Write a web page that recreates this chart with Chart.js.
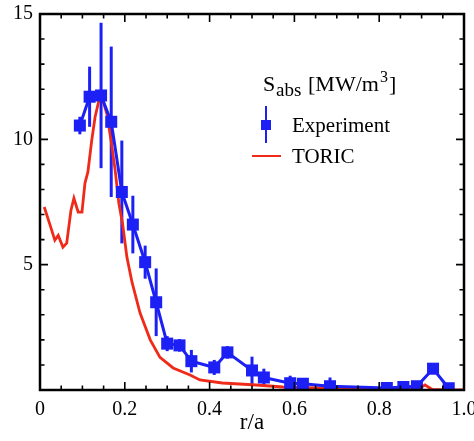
<!DOCTYPE html>
<html>
<head>
<meta charset="utf-8">
<script src="https://cdn.jsdelivr.net/npm/chart.js@4"></script>
<style>
  html, body { margin: 0; padding: 0; background: #fff; }
  #wrap { width: 474px; height: 441px; }
</style>
</head>
<body>
<div id="wrap"><canvas id="myChart"></canvas></div>
<script>
const BLUE = "rgb(28,32,245)";
const RED = "rgb(240,42,25)";
const SERIF = '"Liberation Serif", "Times New Roman", serif';

// measured points (r/a, S_abs, +/- error)
const expX = [0.094, 0.117, 0.144, 0.168, 0.193, 0.219, 0.248, 0.274, 0.300, 0.329, 0.357, 0.411, 0.442, 0.500, 0.528, 0.590, 0.620, 0.684, 0.818, 0.857, 0.889, 0.927, 0.964];
const expY = [10.55, 11.7, 11.75, 10.7, 7.9, 6.6, 5.1, 3.5, 1.85, 1.78, 1.15, 0.9, 1.5, 0.78, 0.5, 0.27, 0.25, 0.15, 0.08, 0.12, 0.15, 0.85, 0.07];
const expErr = [0.35, 1.2, 2.9, 3.0, 2.05, 1.15, 0.66, 1.35, 0.3, 0.25, 0.45, 0.3, 0.25, 0.55, 0.35, 0.3, 0.2, 0.35, 0.1, 0.1, 0.1, 0.15, 0.1];

// TORIC simulation
const toricX = [0.01, 0.024, 0.035, 0.043, 0.054, 0.063, 0.073, 0.080, 0.090, 0.099, 0.106, 0.113, 0.122, 0.130, 0.139, 0.145, 0.158, 0.168, 0.177, 0.186, 0.195, 0.205, 0.217, 0.236, 0.26, 0.283, 0.314, 0.354, 0.377, 0.43, 0.51, 0.573, 0.65, 0.75, 0.85, 0.895, 0.908, 0.925, 0.96, 1.0];
const toricY = [7.3, 6.57, 5.98, 6.17, 5.7, 5.86, 7.17, 7.65, 7.1, 7.1, 8.25, 8.7, 9.96, 10.9, 11.55, 11.75, 11.0, 9.9, 8.8, 7.45, 6.6, 5.3, 4.3, 3.07, 2.0, 1.3, 0.88, 0.6, 0.4, 0.28, 0.2, 0.12, 0.08, 0.06, 0.05, 0.07, 0.2, 0.02, 0.0, 0.0];

const xTicks = [0, 0.2, 0.4, 0.6, 0.8, 1.0];
const yTicks = [5, 10, 15];

const pts = (xs, ys) => xs.map((v, i) => ({ x: v, y: ys[i] }));

// error bars drawn through the scales
const errorBars = {
  id: "errorBars",
  beforeDatasetsDraw(chart) {
    const { ctx, chartArea: a, scales: { x, y } } = chart;
    ctx.save();
    ctx.beginPath();
    ctx.rect(a.left, a.top, a.width, a.height);
    ctx.clip();
    ctx.strokeStyle = BLUE;
    ctx.lineWidth = 3;
    expX.forEach((v, i) => {
      const px = x.getPixelForValue(v);
      ctx.beginPath();
      ctx.moveTo(px, y.getPixelForValue(expY[i] + expErr[i]));
      ctx.lineTo(px, y.getPixelForValue(Math.max(0, expY[i] - expErr[i])));
      ctx.stroke();
    });
    ctx.restore();
  },
};

// box frame with inward ticks on all sides
const frameTicks = {
  id: "frameTicks",
  afterDatasetsDraw(chart) {
    const { ctx, chartArea: a, scales: { x, y } } = chart;
    ctx.save();
    ctx.strokeStyle = "#000";
    ctx.lineWidth = 1.6;
    ctx.beginPath();
    for (let i = 1; i < 20; i++) {
      const px = x.getPixelForValue(i * 0.05);
      const len = i % 4 === 0 ? 8 : 4.5;
      ctx.moveTo(px, a.bottom); ctx.lineTo(px, a.bottom - len);
      ctx.moveTo(px, a.top); ctx.lineTo(px, a.top + len);
    }
    for (let i = 1; i < 15; i++) {
      const py = y.getPixelForValue(i);
      const len = i % 5 === 0 ? 8 : 4.5;
      ctx.moveTo(a.left, py); ctx.lineTo(a.left + len, py);
      ctx.moveTo(a.right, py); ctx.lineTo(a.right - len, py);
    }
    ctx.stroke();
    ctx.lineWidth = 2.5;
    ctx.strokeRect(a.left, a.top, a.width, a.height);
    ctx.restore();
  },
};

// legend with subscript / superscript title
const legendBox = {
  id: "legendBox",
  afterDraw(chart) {
    const { ctx } = chart;
    ctx.save();
    ctx.fillStyle = "#000";
    ctx.textBaseline = "alphabetic";
    ctx.textAlign = "left";
    ctx.font = "22px " + SERIF;
    ctx.fillText("S", 263, 91);
    ctx.font = "19px " + SERIF;
    ctx.fillText("abs", 276, 96);
    ctx.font = "22px " + SERIF;
    ctx.fillText("[MW/m", 308, 91);
    ctx.font = "16px " + SERIF;
    ctx.fillText("3", 380, 82);
    ctx.font = "22px " + SERIF;
    ctx.fillText("]", 389, 91);

    // Experiment entry
    ctx.strokeStyle = BLUE;
    ctx.lineWidth = 2;
    ctx.beginPath();
    ctx.moveTo(266, 106); ctx.lineTo(266, 143);
    ctx.stroke();
    ctx.fillStyle = BLUE;
    ctx.fillRect(261, 120, 10, 10);
    ctx.fillStyle = "#000";
    ctx.font = "21px " + SERIF;
    ctx.fillText("Experiment", 292, 132);

    // TORIC entry
    ctx.strokeStyle = RED;
    ctx.lineWidth = 2;
    ctx.beginPath();
    ctx.moveTo(252, 156); ctx.lineTo(281, 156);
    ctx.stroke();
    ctx.fillText("TORIC", 292, 163);
    ctx.restore();
  },
};

const config = {
  type: "line",
  data: {
    datasets: [
      {
        label: "Experiment",
        data: pts(expX, expY),
        borderColor: BLUE,
        backgroundColor: BLUE,
        borderWidth: 3,
        pointStyle: "rect",
        pointRadius: 8.5,
        pointBorderWidth: 0,
        tension: 0,
        order: 0,
      },
      {
        label: "TORIC",
        data: pts(toricX, toricY),
        borderColor: RED,
        borderWidth: 2.8,
        pointRadius: 0,
        tension: 0,
        order: 1,
      },
    ],
  },
  options: {
    responsive: true,
    maintainAspectRatio: false,
    animation: false,
    layout: { padding: { left: 0, right: 10, top: 14, bottom: 0 } },
    plugins: {
      legend: { display: false },
      tooltip: { enabled: false },
    },
    scales: {
      x: {
        type: "linear",
        min: 0,
        max: 1,
        grid: { display: false, drawTicks: false },
        border: { display: false },
        afterBuildTicks: (s) => { s.ticks = xTicks.map((v) => ({ value: v })); },
        afterFit: (s) => { s.height = 51; s.paddingLeft = 0; s.paddingRight = 0; },
        ticks: {
          color: "#000",
          padding: 8,
          maxRotation: 0,
          font: { family: SERIF, size: 20 },
          callback: (v) => (v === 0 ? "0" : Number(v).toFixed(1)),
        },
        title: {
          display: true,
          text: "r/a",
          color: "#000",
          font: { family: SERIF, size: 23 },
          padding: { top: 0, bottom: 4 },
        },
      },
      y: {
        min: 0,
        max: 15,
        grid: { display: false, drawTicks: false },
        border: { display: false },
        afterBuildTicks: (s) => { s.ticks = yTicks.map((v) => ({ value: v })); },
        afterFit: (s) => { s.width = 40; s.paddingTop = 0; s.paddingBottom = 0; },
        ticks: {
          color: "#000",
          padding: 7,
          font: { family: SERIF, size: 20 },
        },
      },
    },
  },
  plugins: [errorBars, frameTicks, legendBox],
};

const ctx = document.getElementById("myChart");
const myChart = new Chart(ctx, config);
</script>
</body>
</html>
